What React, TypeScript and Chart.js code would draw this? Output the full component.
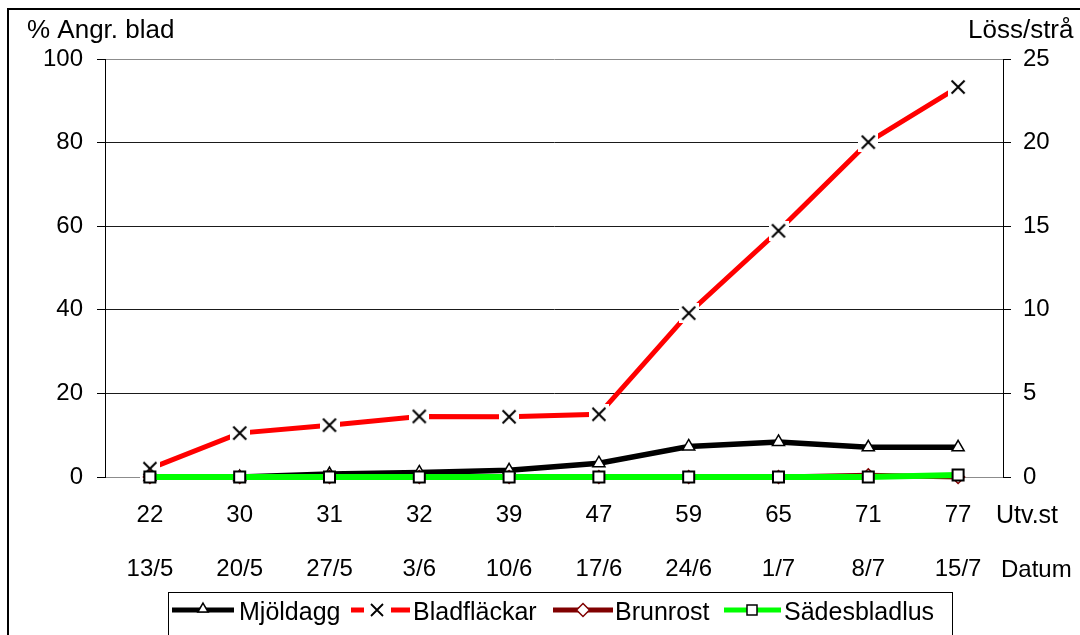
import React, { useEffect, useRef } from 'react';
import { Chart, registerables } from 'chart.js';

Chart.register(...registerables);

// ---- data ----
const utvStages = ['22', '30', '31', '32', '39', '47', '59', '65', '71', '77'];
const dates = ['13/5', '20/5', '27/5', '3/6', '10/6', '17/6', '24/6', '1/7', '8/7', '15/7'];
const seriesNames = ['Mjöldagg', 'Bladfläckar', 'Brunrost', 'Sädesbladlus'];
const mjoldagg = [0, 0, 0.7, 1.1, 1.6, 3.3, 7.3, 8.4, 7.1, 7.1];
const bladflackar = [2, 10.5, 12.4, 14.5, 14.4, 15, 39.2, 58.9, 80.1, 93.3];
const brunrost = [0, 0, 0, 0, 0, 0, 0, 0, 0.4, 0];
const sadesbladlus = [0, 0, 0, 0, 0, 0, 0, 0, 0, 0.12];
const leftTicks = [0, 20, 40, 60, 80, 100];
const rightTicks = [0, 5, 10, 15, 20, 25];
const leftTitle = '% Angr. blad';
const rightTitle = 'Löss/strå';
const row1Title = 'Utv.st';
const row2Title = 'Datum';

const FONT = "'Liberation Sans', Arial, sans-serif";

function makeXMarker(size: number, cross: number): HTMLCanvasElement {
  const c = document.createElement('canvas');
  c.width = size;
  c.height = size;
  const g = c.getContext('2d')!;
  g.fillStyle = '#ffffff';
  g.fillRect(0, 0, size, size);
  const a = (size - cross) / 2;
  const b = a + cross;
  g.strokeStyle = '#000000';
  g.lineWidth = 2;
  g.beginPath();
  g.moveTo(a, a);
  g.lineTo(b, b);
  g.moveTo(b, a);
  g.lineTo(a, b);
  g.stroke();
  return c;
}

export default function App() {
  const ref = useRef<HTMLCanvasElement>(null);

  useEffect(() => {
    const canvas = ref.current!;
    const xMarker = makeXMarker(20, 13);

    const decor = {
      id: 'decor',
      afterDraw(chart: any) {
        const ctx: CanvasRenderingContext2D = chart.ctx;
        ctx.save();
        // outer frame
        ctx.strokeStyle = '#000';
        ctx.lineWidth = 2;
        ctx.beginPath();
        ctx.moveTo(8, 640);
        ctx.lineTo(8, 9);
        ctx.lineTo(1090, 9);
        ctx.stroke();

        ctx.fillStyle = '#000';
        ctx.textBaseline = 'alphabetic';
        ctx.textAlign = 'left';
        ctx.font = `26px ${FONT}`;
        ctx.fillText(leftTitle, 27, 38);
        ctx.fillText(rightTitle, 968, 38);
        ctx.font = `25px ${FONT}`;
        ctx.fillText(row1Title, 996, 523);
        ctx.font = `24px ${FONT}`;
        ctx.fillText(row2Title, 1001, 577);

        // legend box
        ctx.lineWidth = 1;
        ctx.strokeStyle = '#000';
        ctx.strokeRect(168.5, 592.5, 784, 100);

        const ly = 610;
        ctx.lineCap = 'butt';
        // Mjöldagg
        ctx.strokeStyle = '#000';
        ctx.lineWidth = 5;
        ctx.beginPath();
        ctx.moveTo(172, ly);
        ctx.lineTo(234, ly);
        ctx.stroke();
        {
          const x = 203, y = ly - 1, r = 6;
          ctx.beginPath();
          ctx.moveTo(x, y - r);
          ctx.lineTo(x + r * 0.866, y + r * 0.5);
          ctx.lineTo(x - r * 0.866, y + r * 0.5);
          ctx.closePath();
          ctx.fillStyle = '#fff';
          ctx.fill();
          ctx.lineWidth = 1.5;
          ctx.strokeStyle = '#000';
          ctx.stroke();
        }
        // Bladfläckar
        ctx.strokeStyle = '#ff0000';
        ctx.lineWidth = 5;
        ctx.beginPath();
        ctx.moveTo(351, ly);
        ctx.lineTo(364, ly);
        ctx.moveTo(391, ly);
        ctx.lineTo(410, ly);
        ctx.stroke();
        {
          const x = 377, y = ly, h = 6;
          ctx.strokeStyle = '#000';
          ctx.lineWidth = 1.8;
          ctx.beginPath();
          ctx.moveTo(x - h, y - h);
          ctx.lineTo(x + h, y + h);
          ctx.moveTo(x + h, y - h);
          ctx.lineTo(x - h, y + h);
          ctx.stroke();
        }
        // Brunrost
        ctx.strokeStyle = '#800000';
        ctx.lineWidth = 5;
        ctx.beginPath();
        ctx.moveTo(553, ly);
        ctx.lineTo(613, ly);
        ctx.stroke();
        {
          const x = 583, y = ly, r = 6.5;
          ctx.beginPath();
          ctx.moveTo(x, y - r);
          ctx.lineTo(x + r, y);
          ctx.lineTo(x, y + r);
          ctx.lineTo(x - r, y);
          ctx.closePath();
          ctx.fillStyle = '#fff';
          ctx.fill();
          ctx.lineWidth = 1.5;
          ctx.strokeStyle = '#800000';
          ctx.stroke();
        }
        // Sädesbladlus
        ctx.strokeStyle = '#00ff00';
        ctx.lineWidth = 5;
        ctx.beginPath();
        ctx.moveTo(724, ly);
        ctx.lineTo(781, ly);
        ctx.stroke();
        {
          const x = 752, y = ly, s = 5;
          ctx.fillStyle = '#fff';
          ctx.fillRect(x - s, y - s, 2 * s, 2 * s);
          ctx.lineWidth = 1.5;
          ctx.strokeStyle = '#000';
          ctx.strokeRect(x - s, y - s, 2 * s, 2 * s);
        }
        // legend labels
        ctx.fillStyle = '#000';
        ctx.font = `25px ${FONT}`;
        ctx.textBaseline = 'alphabetic';
        ctx.fillText(seriesNames[0], 239, 620);
        ctx.fillText(seriesNames[1], 413, 620);
        ctx.fillText(seriesNames[2], 615, 620);
        ctx.fillText(seriesNames[3], 784, 620);
        ctx.restore();
      },
    };

    const chart = new Chart(canvas, {
      type: 'line',
      data: {
        labels: utvStages.map((u, i) => [u, dates[i]]),
        datasets: [
          {
            label: seriesNames[0],
            data: mjoldagg,
            yAxisID: 'y',
            borderColor: '#000000',
            borderWidth: 5.5,
            pointStyle: 'triangle',
            pointRadius: 7,
            pointBackgroundColor: '#ffffff',
            pointBorderColor: '#000000',
            pointBorderWidth: 1.5,
            tension: 0,
            clip: false,
            order: 3,
          },
          {
            label: seriesNames[1],
            data: bladflackar,
            yAxisID: 'y',
            borderColor: '#ff0000',
            borderWidth: 5,
            pointStyle: xMarker,
            pointRadius: 10,
            tension: 0,
            clip: false,
            order: 2,
          },
          {
            label: seriesNames[2],
            data: brunrost,
            yAxisID: 'y',
            borderColor: '#800000',
            borderWidth: 5,
            pointStyle: 'rectRot',
            pointRadius: 6.5,
            pointBackgroundColor: '#ffffff',
            pointBorderColor: '#800000',
            pointBorderWidth: 1.5,
            tension: 0,
            clip: false,
            order: 1,
          },
          {
            label: seriesNames[3],
            data: sadesbladlus,
            yAxisID: 'y1',
            borderColor: '#00ff00',
            borderWidth: 6,
            pointStyle: 'rect',
            pointRadius: 7.8,
            pointBackgroundColor: '#ffffff',
            pointBorderColor: '#000000',
            pointBorderWidth: 2,
            tension: 0,
            clip: false,
            order: 0,
          },
        ],
      },
      options: {
        responsive: false,
        animation: false,
        events: [],
        layout: { padding: { top: 59, left: 0, right: 0, bottom: 0 } },
        plugins: {
          legend: { display: false },
          tooltip: { enabled: false },
          title: { display: false },
        },
        scales: {
          x: {
            type: 'category',
            offset: true,
            grid: { display: false, drawTicks: false },
            border: { display: false },
            ticks: {
              color: '#000',
              font: { family: FONT, size: 24, lineHeight: 2.25 },
              padding: 11,
              maxRotation: 0,
              autoSkip: false,
            },
            afterFit: (s: any) => {
              s.height = 158;
            },
          },
          y: {
            position: 'left',
            min: leftTicks[0],
            max: leftTicks[leftTicks.length - 1],
            ticks: {
              stepSize: leftTicks[1] - leftTicks[0],
              color: '#000',
              font: { family: FONT, size: 24 },
              padding: 14,
            },
            grid: {
              color: (c: any) =>
                c.tick && (c.tick.value === leftTicks[0] || c.tick.value === leftTicks[leftTicks.length - 1])
                  ? '#8c8c8c'
                  : '#1a1a1a',
              tickColor: '#000',
              tickLength: 8,
              lineWidth: 1,
            },
            border: { color: '#000', width: 1 },
            afterFit: (s: any) => {
              s.width = 105;
            },
          },
          y1: {
            position: 'right',
            min: rightTicks[0],
            max: rightTicks[rightTicks.length - 1],
            ticks: {
              stepSize: rightTicks[1] - rightTicks[0],
              color: '#000',
              font: { family: FONT, size: 24 },
              padding: 12,
            },
            grid: { drawOnChartArea: false, tickColor: '#000', tickLength: 8 },
            border: { color: '#000', width: 1 },
            afterFit: (s: any) => {
              s.width = 77;
            },
          },
        },
      },
      plugins: [decor],
    } as any);

    return () => {
      chart.destroy();
    };
  }, []);

  return (
    <div style={{ position: 'fixed', left: 0, top: 0, width: 1080, height: 635, background: '#fff' }}>
      <canvas ref={ref} width={1080} height={635} style={{ display: 'block', width: 1080, height: 635 }} />
    </div>
  );
}
